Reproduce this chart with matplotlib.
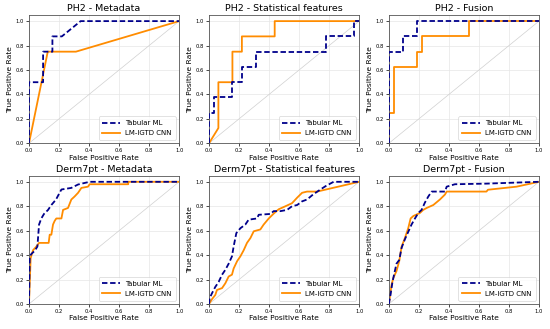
import matplotlib
matplotlib.use("Agg")
import matplotlib.pyplot as plt

# ---------------- data ----------------
titles = ["PH2 - Metadata", "PH2 - Statistical features", "PH2 - Fusion",
          "Derm7pt - Metadata", "Derm7pt - Statistical features", "Derm7pt - Fusion"]
series_names = ["Tabular ML", "LM-IGTD CNN"]

ph2_meta_tab_fpr = [0, 0, 0.094, 0.094, 0.156, 0.156, 0.219, 0.344, 1.0]
ph2_meta_tab_tpr = [0, 0.5, 0.5, 0.75, 0.75, 0.875, 0.875, 1.0, 1.0]
ph2_meta_cnn_fpr = [0, 0.125, 0.3125, 1.0]
ph2_meta_cnn_tpr = [0, 0.75, 0.75, 1.0]

ph2_stat_tab_fpr = [0, 0, 0.031, 0.031, 0.156, 0.156, 0.219, 0.219, 0.3125, 0.3125,
                    0.781, 0.781, 0.969, 0.969, 1.0]
ph2_stat_tab_tpr = [0, 0.25, 0.25, 0.375, 0.375, 0.5, 0.5, 0.625, 0.625, 0.75,
                    0.75, 0.875, 0.875, 1.0, 1.0]
ph2_stat_cnn_fpr = [0, 0.0625, 0.0625, 0.156, 0.156, 0.219, 0.219, 0.4375, 0.4375, 1.0]
ph2_stat_cnn_tpr = [0, 0.125, 0.5, 0.5, 0.75, 0.75, 0.875, 0.875, 1.0, 1.0]

ph2_fus_tab_fpr = [0, 0, 0.094, 0.094, 0.1875, 0.1875, 1.0]
ph2_fus_tab_tpr = [0, 0.75, 0.75, 0.875, 0.875, 1.0, 1.0]
ph2_fus_cnn_fpr = [0, 0, 0.031, 0.031, 0.1875, 0.1875, 0.219, 0.219, 0.531, 0.531, 1.0]
ph2_fus_cnn_tpr = [0, 0.25, 0.25, 0.625, 0.625, 0.75, 0.75, 0.875, 0.875, 1.0, 1.0]

d7_meta_tab_fpr = [0, 0.005, 0.016, 0.038, 0.056, 0.067, 0.082, 0.10, 0.127, 0.149,
                   0.18, 0.204, 0.216, 0.282, 0.327, 0.404, 1.0]
d7_meta_tab_tpr = [0, 0.39, 0.41, 0.435, 0.47, 0.65, 0.70, 0.737, 0.77, 0.81,
                   0.855, 0.91, 0.937, 0.95, 0.978, 1.0, 1.0]
d7_meta_cnn_fpr = [0, 0.011, 0.027, 0.049, 0.067, 0.131, 0.138, 0.149, 0.16, 0.171,
                   0.182, 0.216, 0.227, 0.26, 0.282, 0.304, 0.327, 0.349, 0.393,
                   0.404, 0.661, 0.661, 1.0]
d7_meta_cnn_tpr = [0, 0.375, 0.44, 0.47, 0.5, 0.5, 0.567, 0.567, 0.65, 0.68,
                   0.70, 0.70, 0.77, 0.786, 0.855, 0.88, 0.91, 0.95, 0.96,
                   0.98, 0.98, 1.0, 1.0]

d7_stat_tab_fpr = [0, 0.004, 0.02, 0.042, 0.064, 0.087, 0.109, 0.131, 0.153, 0.164,
                   0.182, 0.209, 0.242, 0.264, 0.32, 0.331, 0.409, 0.431, 0.476,
                   0.52, 0.553, 0.587, 0.62, 0.653, 0.693, 0.742, 0.776, 0.83, 1.0]
d7_stat_tab_tpr = [0, 0.047, 0.088, 0.14, 0.18, 0.24, 0.28, 0.33, 0.39, 0.47,
                   0.58, 0.62, 0.65, 0.69, 0.70, 0.73, 0.737, 0.76, 0.76,
                   0.77, 0.80, 0.81, 0.84, 0.855, 0.896, 0.937, 0.964, 1.0, 1.0]
d7_stat_cnn_fpr = [0, 0.02, 0.042, 0.053, 0.087, 0.109, 0.131, 0.153, 0.164, 0.187,
                   0.209, 0.231, 0.253, 0.276, 0.298, 0.342, 0.364, 0.398, 0.431,
                   0.464, 0.509, 0.553, 0.587, 0.62, 0.653, 0.72, 1.0]
d7_stat_cnn_tpr = [0, 0.04, 0.074, 0.115, 0.13, 0.17, 0.225, 0.24, 0.29, 0.35,
                   0.39, 0.44, 0.50, 0.54, 0.595, 0.61, 0.65, 0.70, 0.74,
                   0.775, 0.80, 0.825, 0.87, 0.91, 0.92, 0.92, 1.0]

d7_fus_tab_fpr = [0, 0.011, 0.024, 0.04, 0.051, 0.069, 0.085, 0.107, 0.129, 0.151,
                  0.174, 0.196, 0.218, 0.24, 0.263, 0.285, 0.374, 0.385, 0.44,
                  0.65, 1.0]
d7_fus_tab_tpr = [0, 0.074, 0.18, 0.27, 0.33, 0.36, 0.46, 0.53, 0.59, 0.65,
                  0.70, 0.745, 0.77, 0.83, 0.88, 0.92, 0.92, 0.96, 0.98,
                  0.985, 1.0]
d7_fus_cnn_fpr = [0, 0.018, 0.029, 0.051, 0.069, 0.085, 0.107, 0.129, 0.145, 0.163,
                  0.207, 0.229, 0.252, 0.296, 0.34, 0.374, 0.385, 0.65, 0.66,
                  0.85, 1.0]
d7_fus_cnn_tpr = [0, 0.156, 0.21, 0.27, 0.35, 0.47, 0.54, 0.62, 0.70, 0.72,
                  0.745, 0.77, 0.786, 0.81, 0.855, 0.896, 0.92, 0.92, 0.935,
                  0.96, 1.0]

panels = [
    (ph2_meta_tab_fpr, ph2_meta_tab_tpr, ph2_meta_cnn_fpr, ph2_meta_cnn_tpr),
    (ph2_stat_tab_fpr, ph2_stat_tab_tpr, ph2_stat_cnn_fpr, ph2_stat_cnn_tpr),
    (ph2_fus_tab_fpr, ph2_fus_tab_tpr, ph2_fus_cnn_fpr, ph2_fus_cnn_tpr),
    (d7_meta_tab_fpr, d7_meta_tab_tpr, d7_meta_cnn_fpr, d7_meta_cnn_tpr),
    (d7_stat_tab_fpr, d7_stat_tab_tpr, d7_stat_cnn_fpr, d7_stat_cnn_tpr),
    (d7_fus_tab_fpr, d7_fus_tab_tpr, d7_fus_cnn_fpr, d7_fus_cnn_tpr),
]
ticks = [0.0, 0.2, 0.4, 0.6, 0.8, 1.0]
tick_labels = ["0.0", "0.2", "0.4", "0.6", "0.8", "1.0"]

# ---------------- plot ----------------
fig = plt.figure(figsize=(5.5, 3.29), dpi=100)
lefts = [0.0527, 0.38, 0.707]
width = 0.273
bottoms = [0.5644, 0.076]
height = 0.39

for i, (title, (tf, tt, cf, ct)) in enumerate(zip(titles, panels)):
    r, c = divmod(i, 3)
    ax = fig.add_axes([lefts[c], bottoms[r], width, height])
    ax.plot([0, 1], [0, 1], color="#d0d0d0", lw=0.5, zorder=1)
    ax.plot(tf, tt, color="#00008B", ls="--", lw=1.3, label=series_names[0],
            zorder=3, dashes=(3, 1.5))
    ax.plot(cf, ct, color="darkorange", lw=1.3, label=series_names[1], zorder=2)
    ax.set_xlim(0, 1)
    ax.set_ylim(0, 1.05)
    ax.set_xticks(ticks)
    ax.set_xticklabels(tick_labels)
    ax.set_yticks(ticks)
    ax.set_yticklabels(tick_labels)
    ax.tick_params(labelsize=3.8, length=2, width=0.5, pad=1.5)
    ax.grid(True, color="#e6e6e6", lw=0.5)
    ax.set_axisbelow(True)
    for s in ax.spines.values():
        s.set_linewidth(0.6)
        s.set_color("#555555")
    ax.set_title(title, fontsize=6.8, pad=3)
    ax.set_xlabel("False Positive Rate", fontsize=5.4, labelpad=1)
    ax.set_ylabel("True Positive Rate", fontsize=5.4, labelpad=2)
    leg = ax.legend(loc="lower right", fontsize=5.0, frameon=True,
                    handlelength=2.5, borderpad=0.55, labelspacing=0.55,
                    fancybox=True)
    leg.get_frame().set_linewidth(0.5)

fig.savefig("out.png", dpi=100)
